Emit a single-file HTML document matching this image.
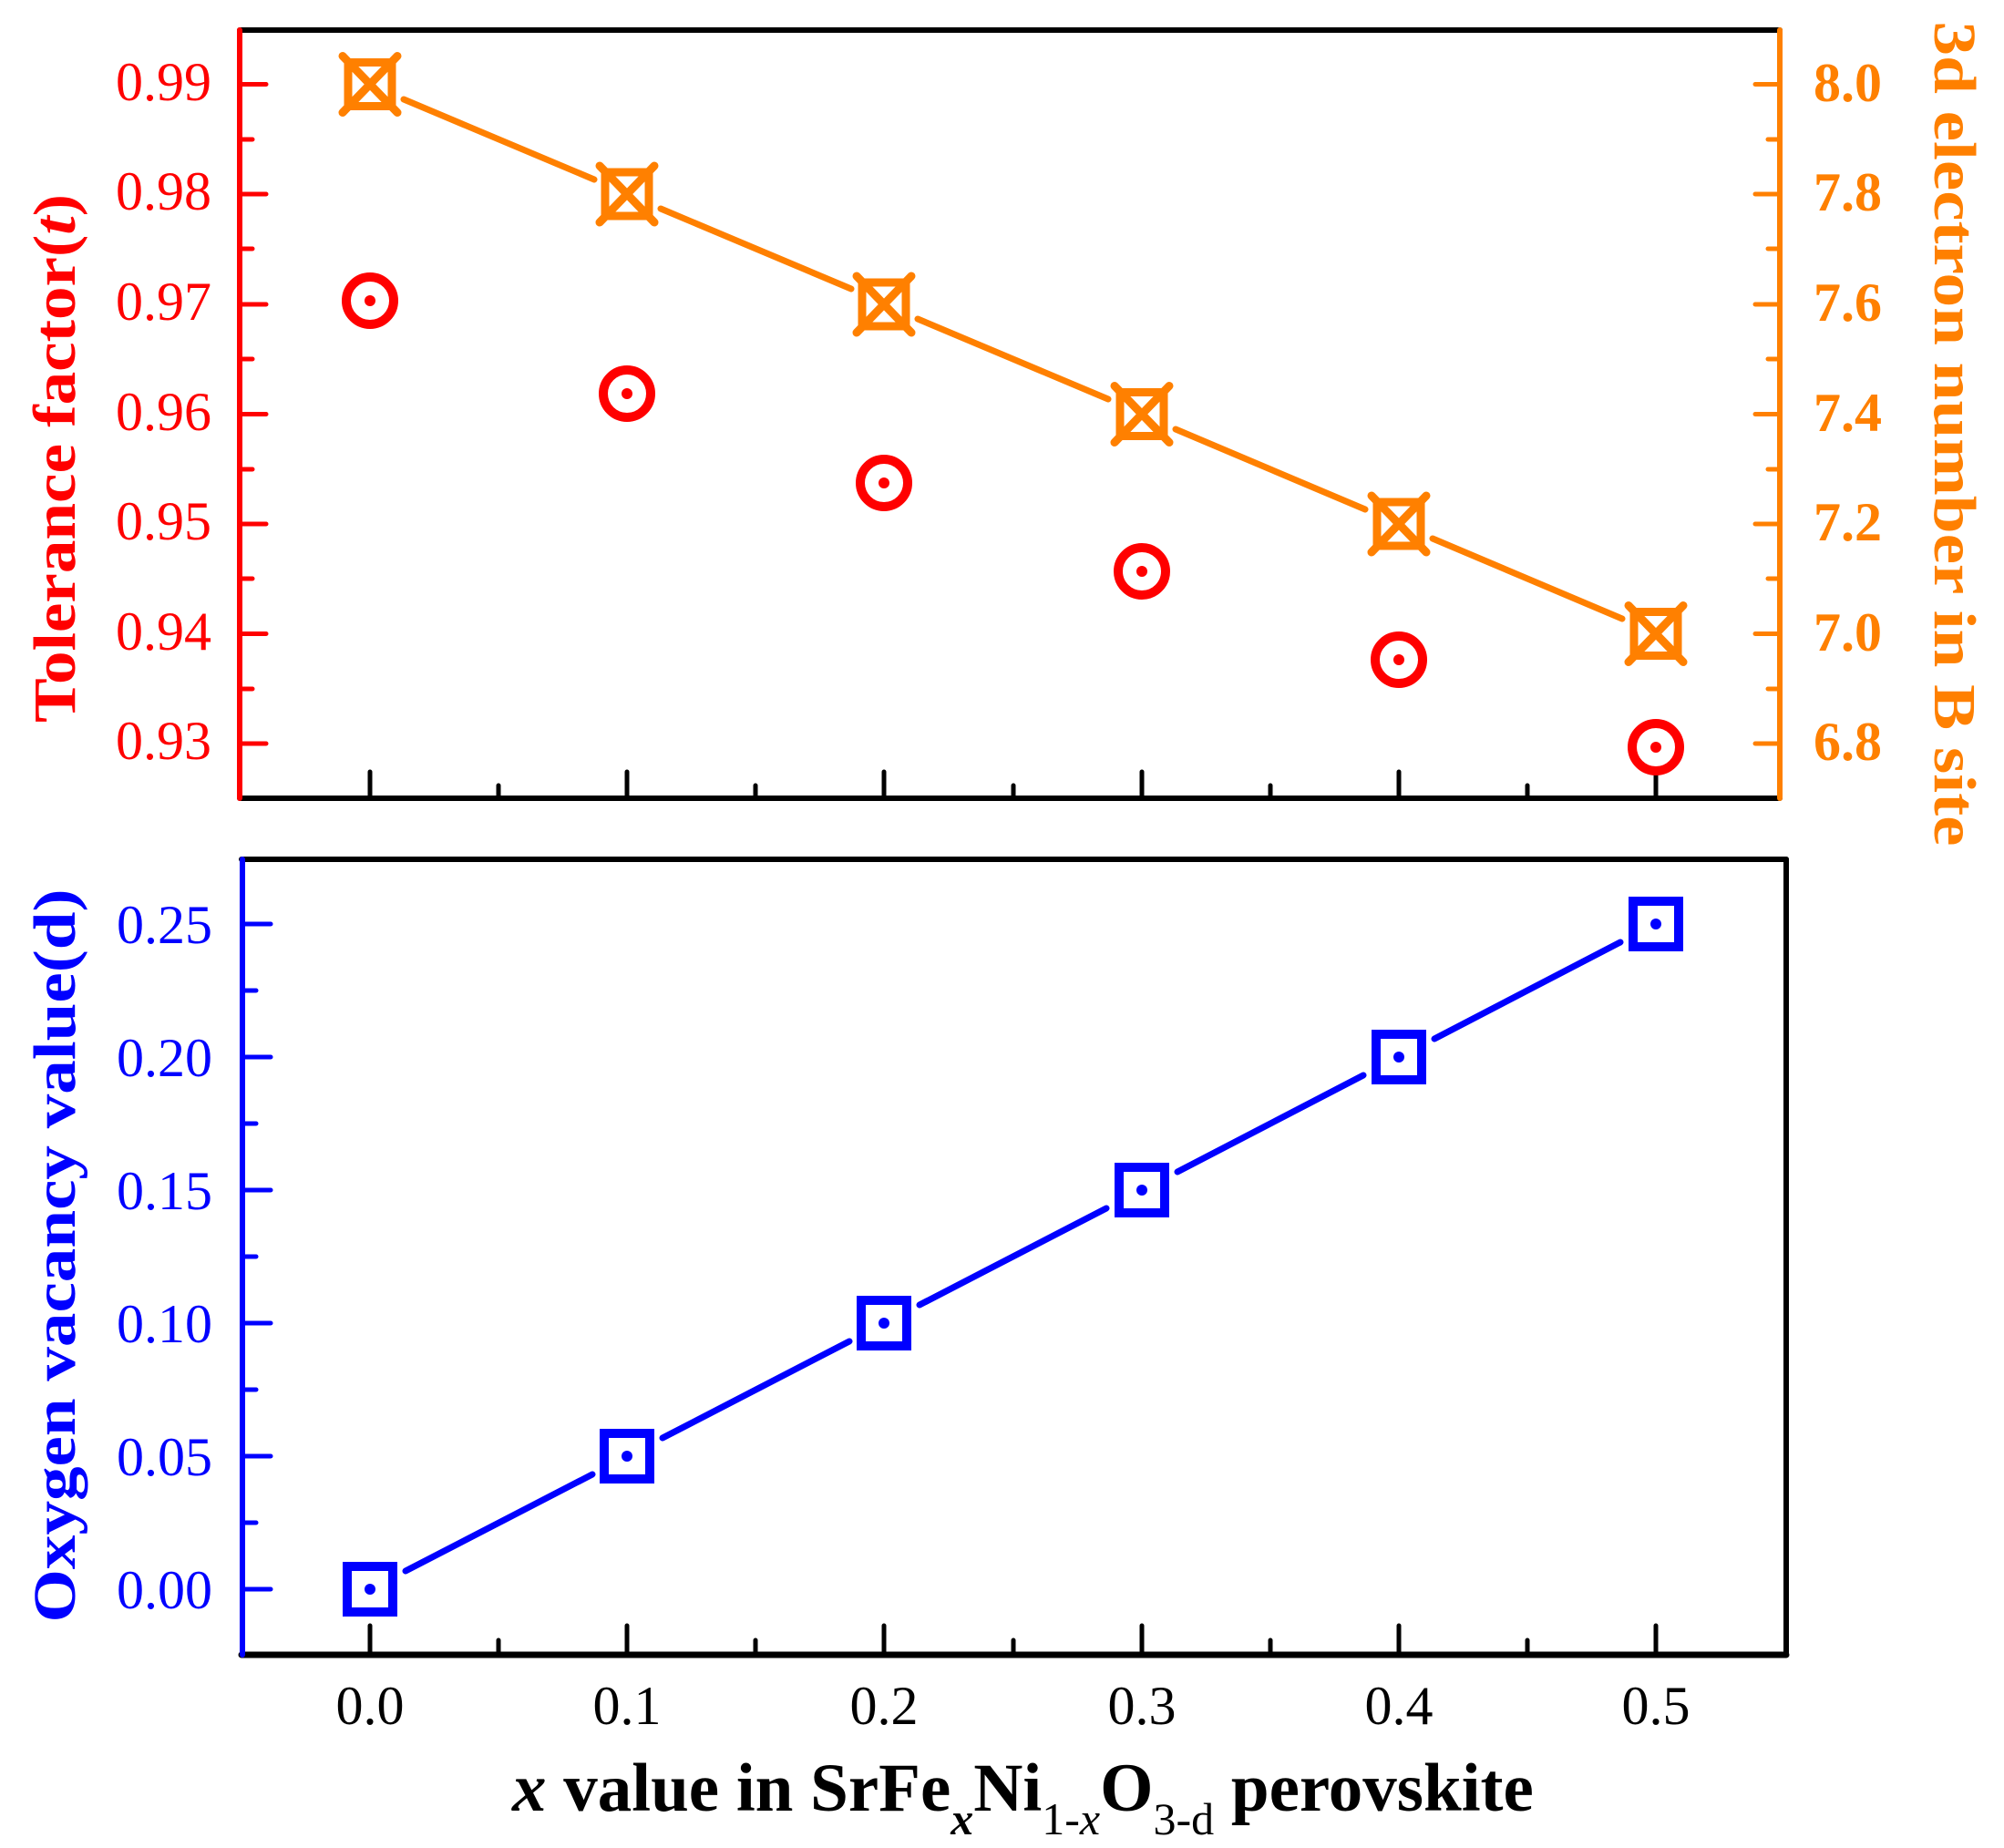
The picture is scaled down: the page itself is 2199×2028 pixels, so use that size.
<!DOCTYPE html>
<html><head><meta charset="utf-8"><style>html,body{margin:0;padding:0;background:#fff}svg{display:block}</style></head>
<body>
<svg xmlns="http://www.w3.org/2000/svg" width="2199" height="2028" viewBox="0 0 2199 2028" font-family="Liberation Serif, serif">
<rect width="2199" height="2028" fill="#fff"/>
<!-- TOP PANEL -->
<g stroke-linecap="round">
<g stroke="#000" stroke-width="5">
<line x1="406" y1="876" x2="406" y2="847"/><line x1="688" y1="876" x2="688" y2="847"/><line x1="970" y1="876" x2="970" y2="847"/><line x1="1253" y1="876" x2="1253" y2="847"/><line x1="1535" y1="876" x2="1535" y2="847"/><line x1="1817" y1="876" x2="1817" y2="847"/>
<line x1="547" y1="876" x2="547" y2="862"/><line x1="829" y1="876" x2="829" y2="862"/><line x1="1112" y1="876" x2="1112" y2="862"/><line x1="1394" y1="876" x2="1394" y2="862"/><line x1="1676" y1="876" x2="1676" y2="862"/>
</g>
<line x1="263" y1="33" x2="1953" y2="33" stroke="#000" stroke-width="6"/>
<line x1="263" y1="876" x2="1953" y2="876" stroke="#000" stroke-width="6"/>
<line x1="263" y1="33" x2="263" y2="876" stroke="#f00" stroke-width="6"/>
<g stroke="#f00" stroke-width="5">
<line x1="263" y1="92.5" x2="292" y2="92.5"/><line x1="263" y1="213" x2="292" y2="213"/><line x1="263" y1="334" x2="292" y2="334"/><line x1="263" y1="454.5" x2="292" y2="454.5"/><line x1="263" y1="575" x2="292" y2="575"/><line x1="263" y1="695.5" x2="292" y2="695.5"/><line x1="263" y1="816" x2="292" y2="816"/>
<line x1="263" y1="153" x2="277" y2="153"/><line x1="263" y1="273" x2="277" y2="273"/><line x1="263" y1="394" x2="277" y2="394"/><line x1="263" y1="515" x2="277" y2="515"/><line x1="263" y1="635" x2="277" y2="635"/><line x1="263" y1="756" x2="277" y2="756"/>
</g>
<line x1="1953" y1="33" x2="1953" y2="876" stroke="#ff8000" stroke-width="6"/>
<g stroke="#ff8000" stroke-width="5">
<line x1="1953" y1="92.5" x2="1926" y2="92.5"/><line x1="1953" y1="213" x2="1926" y2="213"/><line x1="1953" y1="334" x2="1926" y2="334"/><line x1="1953" y1="454.5" x2="1926" y2="454.5"/><line x1="1953" y1="575" x2="1926" y2="575"/><line x1="1953" y1="695.5" x2="1926" y2="695.5"/><line x1="1953" y1="816" x2="1926" y2="816"/>
<line x1="1953" y1="153" x2="1940" y2="153"/><line x1="1953" y1="273" x2="1940" y2="273"/><line x1="1953" y1="394" x2="1940" y2="394"/><line x1="1953" y1="515" x2="1940" y2="515"/><line x1="1953" y1="635" x2="1940" y2="635"/><line x1="1953" y1="756" x2="1940" y2="756"/>
</g>
</g>
<g fill="#f00" font-size="60" text-anchor="end">
<text x="232" y="110">0.99</text><text x="232" y="230">0.98</text><text x="232" y="351">0.97</text><text x="232" y="472">0.96</text><text x="232" y="592">0.95</text><text x="232" y="713">0.94</text><text x="232" y="833">0.93</text>
</g>
<g fill="#ff8000" font-size="60" font-weight="bold">
<text x="1990" y="111">8.0</text><text x="1990" y="231">7.8</text><text x="1990" y="352">7.6</text><text x="1990" y="473">7.4</text><text x="1990" y="593">7.2</text><text x="1990" y="714">7.0</text><text x="1990" y="834">6.8</text>
</g>
<text transform="translate(82,503) rotate(-90)" fill="#f00" font-size="66" font-weight="bold" text-anchor="middle" textLength="580" lengthAdjust="spacingAndGlyphs">Tolerance factor(<tspan font-style="italic">t</tspan>)</text>
<text transform="translate(2123,476) rotate(90)" fill="#ff8000" font-size="66" font-weight="bold" text-anchor="middle" textLength="905" lengthAdjust="spacingAndGlyphs">3d electron number in B site</text>
<g stroke="#ff8000" stroke-width="7" stroke-linecap="round" fill="none">
<line x1="443" y1="109" x2="652" y2="197"/><line x1="725" y1="229" x2="934" y2="317"/><line x1="1007" y1="350" x2="1216" y2="438"/><line x1="1290" y1="471" x2="1498" y2="559"/><line x1="1572" y1="591" x2="1780" y2="679"/>
</g>
<g stroke="#ff8000" stroke-width="9" stroke-linecap="round" fill="none">
<g transform="translate(406,92.5)"><rect x="-24" y="-24" width="48" height="48"/><line x1="-30" y1="-31" x2="30" y2="31"/><line x1="30" y1="-31" x2="-30" y2="31"/></g>
<g transform="translate(688,213)"><rect x="-24" y="-24" width="48" height="48"/><line x1="-30" y1="-31" x2="30" y2="31"/><line x1="30" y1="-31" x2="-30" y2="31"/></g>
<g transform="translate(970,334)"><rect x="-24" y="-24" width="48" height="48"/><line x1="-30" y1="-31" x2="30" y2="31"/><line x1="30" y1="-31" x2="-30" y2="31"/></g>
<g transform="translate(1253,454.5)"><rect x="-24" y="-24" width="48" height="48"/><line x1="-30" y1="-31" x2="30" y2="31"/><line x1="30" y1="-31" x2="-30" y2="31"/></g>
<g transform="translate(1535,575)"><rect x="-24" y="-24" width="48" height="48"/><line x1="-30" y1="-31" x2="30" y2="31"/><line x1="30" y1="-31" x2="-30" y2="31"/></g>
<g transform="translate(1817,695.5)"><rect x="-24" y="-24" width="48" height="48"/><line x1="-30" y1="-31" x2="30" y2="31"/><line x1="30" y1="-31" x2="-30" y2="31"/></g>
</g>
<g stroke="#f00" stroke-width="10" fill="none">
<circle cx="406" cy="330" r="26"/><circle cx="688" cy="432" r="26"/><circle cx="970" cy="530" r="26"/><circle cx="1253" cy="627" r="26"/><circle cx="1535" cy="724" r="26"/><circle cx="1817" cy="820" r="26"/>
</g>
<g fill="#f00">
<circle cx="406" cy="330" r="6"/><circle cx="688" cy="432" r="6"/><circle cx="970" cy="530" r="6"/><circle cx="1253" cy="627" r="6"/><circle cx="1535" cy="724" r="6"/><circle cx="1817" cy="820" r="6"/>
</g>

<!-- BOTTOM PANEL -->
<g stroke-linecap="round">
<g stroke="#000" stroke-width="5">
<line x1="406" y1="1816" x2="406" y2="1784"/><line x1="688" y1="1816" x2="688" y2="1784"/><line x1="970" y1="1816" x2="970" y2="1784"/><line x1="1253" y1="1816" x2="1253" y2="1784"/><line x1="1535" y1="1816" x2="1535" y2="1784"/><line x1="1817" y1="1816" x2="1817" y2="1784"/>
<line x1="547" y1="1816" x2="547" y2="1800"/><line x1="829" y1="1816" x2="829" y2="1800"/><line x1="1112" y1="1816" x2="1112" y2="1800"/><line x1="1394" y1="1816" x2="1394" y2="1800"/><line x1="1676" y1="1816" x2="1676" y2="1800"/>
</g>
<line x1="265" y1="943" x2="1960" y2="943" stroke="#000" stroke-width="6"/>
<line x1="265" y1="1816" x2="1960" y2="1816" stroke="#000" stroke-width="7"/>
<line x1="1960" y1="943" x2="1960" y2="1816" stroke="#000" stroke-width="6"/>
<line x1="266" y1="943" x2="266" y2="1816" stroke="#00f" stroke-width="6"/>
<g stroke="#00f" stroke-width="5">
<line x1="266" y1="1744" x2="297" y2="1744"/><line x1="266" y1="1598" x2="297" y2="1598"/><line x1="266" y1="1452" x2="297" y2="1452"/><line x1="266" y1="1306" x2="297" y2="1306"/><line x1="266" y1="1160" x2="297" y2="1160"/><line x1="266" y1="1014" x2="297" y2="1014"/>
<line x1="266" y1="1671" x2="281" y2="1671"/><line x1="266" y1="1525" x2="281" y2="1525"/><line x1="266" y1="1379" x2="281" y2="1379"/><line x1="266" y1="1233" x2="281" y2="1233"/><line x1="266" y1="1087" x2="281" y2="1087"/>
</g>
</g>
<g fill="#00f" font-size="60" text-anchor="end">
<text x="233" y="1765">0.00</text><text x="233" y="1619">0.05</text><text x="233" y="1473">0.10</text><text x="233" y="1327">0.15</text><text x="233" y="1181">0.20</text><text x="233" y="1035">0.25</text>
</g>
<text transform="translate(82,1378) rotate(-90)" fill="#00f" font-size="66" font-weight="bold" text-anchor="middle" textLength="805" lengthAdjust="spacingAndGlyphs">Oxygen vacancy value(d)</text>
<g stroke="#00f" stroke-width="7" stroke-linecap="round" fill="none">
<line x1="445" y1="1724" x2="650" y2="1618"/><line x1="727" y1="1578" x2="932" y2="1472"/><line x1="1009" y1="1432" x2="1214" y2="1326"/><line x1="1292" y1="1286" x2="1496" y2="1180"/><line x1="1574" y1="1140" x2="1778" y2="1034"/>
</g>
<g stroke="#00f" stroke-width="10" fill="none">
<rect x="381" y="1719" width="50" height="50"/><rect x="663" y="1573" width="50" height="50"/><rect x="945" y="1427" width="50" height="50"/><rect x="1228" y="1281" width="50" height="50"/><rect x="1510" y="1135" width="50" height="50"/><rect x="1792" y="989" width="50" height="50"/>
</g>
<g fill="#00f">
<circle cx="406" cy="1744" r="6"/><circle cx="688" cy="1598" r="6"/><circle cx="970" cy="1452" r="6"/><circle cx="1253" cy="1306" r="6"/><circle cx="1535" cy="1160" r="6"/><circle cx="1817" cy="1014" r="6"/>
</g>
<g fill="#000" font-size="60" text-anchor="middle">
<text x="406" y="1892">0.0</text><text x="688" y="1892">0.1</text><text x="970" y="1892">0.2</text><text x="1253" y="1892">0.3</text><text x="1535" y="1892">0.4</text><text x="1817" y="1892">0.5</text>
</g>
<text x="562" y="1987" fill="#000" font-size="75" font-weight="bold"><tspan font-style="italic">x</tspan> value in SrFe<tspan font-size="50" dy="26" font-style="italic">x</tspan><tspan dy="-26">Ni</tspan><tspan font-size="50" dy="26" font-weight="normal">1-<tspan font-style="italic">x</tspan></tspan><tspan dy="-26">O</tspan><tspan font-size="50" dy="26" font-weight="normal">3-d</tspan><tspan dy="-26"> perovskite</tspan></text>
</svg>
</body></html>
